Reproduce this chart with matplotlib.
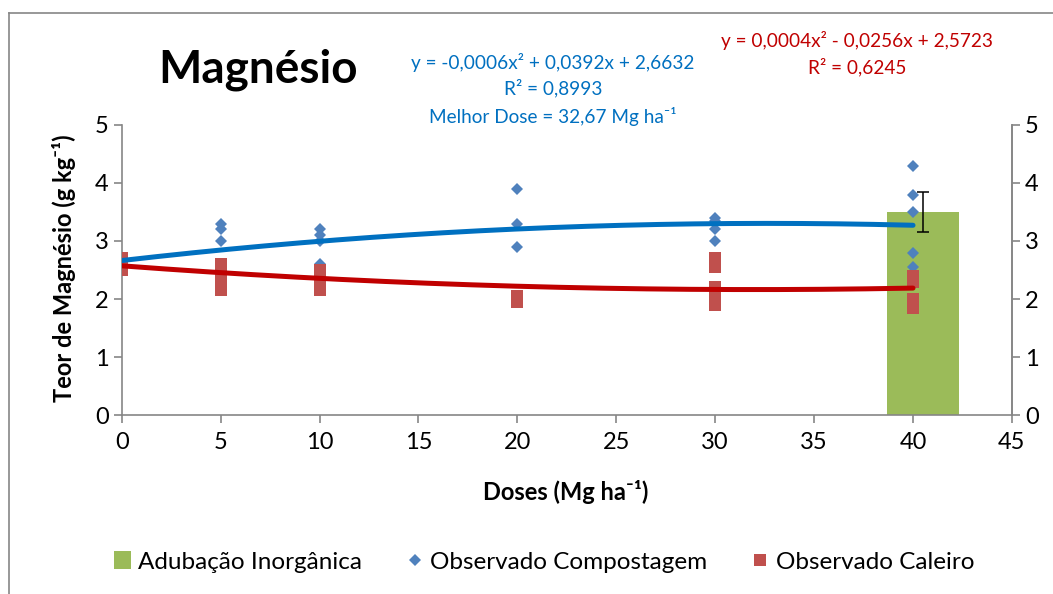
import numpy as np
import matplotlib.pyplot as plt
from matplotlib.lines import Line2D
from matplotlib.patches import Patch

plt.rcParams['font.family'] = ['Lato', 'DejaVu Sans']

# observed values (dose, teor)
comp_dose = [5, 5, 5, 10, 10, 10, 10, 20, 20, 20, 30, 30, 30, 30, 40, 40, 40, 40, 40]
comp_val = [3.3, 3.2, 3.0, 3.2, 3.1, 3.0, 2.6, 3.9, 3.3, 2.9, 3.4, 3.35, 3.2, 3.0, 4.3, 3.8, 3.5, 2.8, 2.55]

cal_dose = [0, 0, 0, 5, 5, 5, 5, 5, 10, 10, 10, 10, 20, 20, 20, 30, 30, 30, 30, 30, 30, 40, 40, 40, 40]
cal_val = [2.7, 2.6, 2.5, 2.6, 2.5, 2.4, 2.3, 2.15, 2.5, 2.4, 2.3, 2.15, 2.05, 2.0, 1.95,
           2.7, 2.55, 2.2, 2.1, 2.0, 1.9, 2.4, 2.3, 2.0, 1.85]

# inorganic fertilization (bar)
inorg_dose = [40]
inorg_val = [3.5]
inorg_err = [0.34]

# trend line coefficients (a, b, c) from the chart equations
comp_coef = [-0.0006, 0.0392, 2.6632]
cal_coef = [0.0004, -0.0256, 2.5723]

xt = [0, 5, 10, 15, 20, 25, 30, 35, 40, 45]
yt = [0, 1, 2, 3, 4, 5]

BLUE_PT = '#4F81BD'
RED_PT = '#C0504D'
GREEN = '#9BBB59'
GRAY = '#868686'

fig = plt.figure(figsize=(10.53, 5.94), dpi=100)
ax = fig.add_axes([0.1156, 0.3013, 0.8454, 0.4883])

# bar sits a little right of its dose, as in the original
ax.bar(np.array(inorg_dose) + 0.5, inorg_val, width=3.6, color=GREEN, zorder=1)
ax.errorbar(np.array(inorg_dose) + 0.5, inorg_val, yerr=inorg_err, fmt='none',
            ecolor='black', elinewidth=1.1, capsize=4.3, capthick=1.1, zorder=6)

ax.plot(comp_dose, comp_val, 'D', color=BLUE_PT, ms=6.6, mew=0, zorder=2)
ax.plot(cal_dose, cal_val, 's', color=RED_PT, ms=8.7, mew=0, zorder=3)

xx = np.linspace(0, 40, 200)
ax.plot(xx, np.polyval(comp_coef, xx), color='#0070C0', lw=3.6, solid_capstyle='round', zorder=4)
ax.plot(xx, np.polyval(cal_coef, xx), color='#C00000', lw=3.6, solid_capstyle='round', zorder=4)

ax.set_xlim(0, 45)
ax.set_ylim(0, 5)
ax.set_xticks(xt)
ax.set_yticks(yt)
ax.tick_params(labelsize=17, length=6, width=1.2, color=GRAY, direction='out')
ax.tick_params(axis='x', pad=6)
ax.spines['top'].set_visible(False)
for s in ['left', 'bottom', 'right']:
    ax.spines[s].set_color(GRAY)
    ax.spines[s].set_linewidth(1.2)

ax2 = ax.twinx()
ax2.set_ylim(0, 5)
ax2.set_yticks(yt)
ax2.tick_params(labelsize=17, length=6, width=1.2, color=GRAY, direction='out')
ax2.spines['top'].set_visible(False)
ax2.spines['right'].set_color(GRAY)
ax2.spines['right'].set_linewidth(1.2)
ax2.spines['left'].set_visible(False)
ax2.spines['bottom'].set_visible(False)

fig.text(64 / 1053, 1 - 268 / 594, 'Teor de Magnésio (g kg⁻¹)', rotation=90,
         fontsize=17, fontweight='bold', ha='center', va='center')
fig.text(566 / 1053, 1 - 492 / 594, 'Doses (Mg ha⁻¹)',
         fontsize=17, fontweight='bold', ha='center', va='center')

fig.text(258 / 1053, 1 - 70 / 594, 'Magnésio', fontsize=33, fontweight='bold',
         ha='center', va='center')

fig.text(553 / 1053, 1 - 62 / 594, 'y = -0,0006x² + 0,0392x + 2,6632', color='#0070C0',
         fontsize=13.7, ha='center', va='center')
fig.text(553 / 1053, 1 - 88 / 594, 'R² = 0,8993', color='#0070C0',
         fontsize=13.7, ha='center', va='center')
fig.text(553 / 1053, 1 - 116 / 594, 'Melhor Dose = 32,67 Mg ha⁻¹', color='#0070C0',
         fontsize=13.7, ha='center', va='center')
fig.text(857 / 1053, 1 - 41 / 594, 'y = 0,0004x² - 0,0256x + 2,5723', color='#C00000',
         fontsize=13.7, ha='center', va='center')
fig.text(857 / 1053, 1 - 67 / 594, 'R² = 0,6245', color='#C00000',
         fontsize=13.7, ha='center', va='center')

handles = [
    Patch(facecolor=GREEN, edgecolor='none'),
    Line2D([], [], marker='D', color=BLUE_PT, ls='none', ms=6.6, mew=0),
    Line2D([], [], marker='s', color=RED_PT, ls='none', ms=9, mew=0),
]
labels = ['Adubação Inorgânica', 'Observado Compostagem', 'Observado Caleiro']
fig.legend(handles, labels, loc='center', bbox_to_anchor=(544 / 1053, 1 - 562 / 594),
           ncol=3, frameon=False, fontsize=17.5, handlelength=0.7, handleheight=0.7,
           handletextpad=0.3, columnspacing=1.8)

# chart area border (left and top edges)
fig.add_artist(Line2D([9 / 1053, 9 / 1053], [0, 1 - 13 / 594], color=GRAY, lw=1.2,
                      transform=fig.transFigure))
fig.add_artist(Line2D([9 / 1053, 1], [1 - 13 / 594, 1 - 13 / 594], color=GRAY, lw=1.2,
                      transform=fig.transFigure))

fig.savefig('out.png', dpi=100)
